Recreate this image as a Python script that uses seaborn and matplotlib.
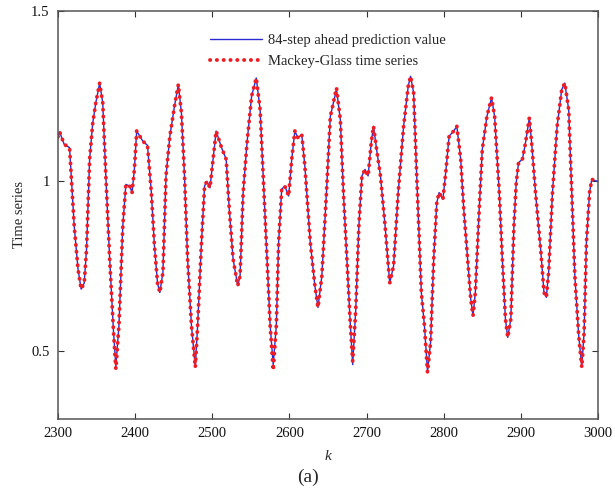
import matplotlib
matplotlib.use("Agg")
import matplotlib.pyplot as plt
import seaborn as sns
import pandas as pd

# Sample positions (k) and values
k_vals = [2300, 2302, 2308, 2315, 2321, 2326, 2330, 2334, 2337, 2341, 2345, 2349, 2354, 2358,
          2362, 2367, 2372, 2375, 2379, 2384, 2388, 2393, 2396, 2399, 2402, 2410, 2416,
          2421, 2425, 2429, 2432, 2436, 2440, 2445, 2451, 2456, 2460, 2464, 2468, 2473,
          2478, 2481, 2486, 2490, 2493, 2497, 2501, 2505, 2512, 2518, 2522, 2527, 2533,
          2536, 2540, 2545, 2551, 2557, 2562, 2566, 2571, 2575, 2579, 2583, 2586, 2590,
          2594, 2599, 2603, 2607, 2611, 2616, 2620, 2627, 2633, 2637, 2642, 2648, 2653,
          2656, 2661, 2666, 2670, 2675, 2679, 2682, 2686, 2690, 2694, 2698, 2702, 2706,
          2709, 2713, 2718, 2724, 2730, 2735, 2741, 2748, 2754, 2757, 2761, 2765, 2771,
          2775, 2779, 2783, 2787, 2791, 2794, 2799, 2803, 2807, 2813, 2817, 2822, 2826,
          2831, 2835, 2838, 2841, 2846, 2850, 2856, 2862, 2866, 2872, 2876, 2880, 2883,
          2887, 2891, 2894, 2897, 2902, 2906, 2911, 2914, 2919, 2926, 2930, 2933, 2936,
          2941, 2947, 2953, 2957, 2962, 2966, 2970, 2975, 2979, 2982, 2985, 2989, 2992,
          2997, 3000]

mg_vals = [1.13, 1.145, 1.108, 1.098, 0.868, 0.74, 0.682, 0.70, 0.80, 1.064, 1.17, 1.23, 1.288, 1.23,
           1.015, 0.77, 0.555, 0.447, 0.575, 0.868, 0.99, 0.985, 0.966, 1.034, 1.147, 1.117, 1.105,
           0.966, 0.81, 0.70, 0.672, 0.731, 1.015, 1.132, 1.22, 1.284, 1.20, 1.015, 0.77, 0.575,
           0.452, 0.575, 0.82, 0.985, 0.999, 0.98, 1.064, 1.147, 1.098, 1.064, 0.917, 0.77, 0.692,
           0.72, 0.966, 1.112, 1.25, 1.303, 1.21, 1.015, 0.77, 0.575, 0.443, 0.575, 0.82, 0.976,
           0.985, 0.956, 1.064, 1.147, 1.127, 1.137, 1.044, 0.82, 0.692, 0.628, 0.72, 0.966, 1.19,
           1.22, 1.274, 1.18, 0.966, 0.75, 0.575, 0.47, 0.623, 0.868, 1.015, 1.034, 1.015, 1.112,
           1.161, 1.093, 1.015, 0.868, 0.70, 0.75, 0.966, 1.161, 1.279, 1.308, 1.26, 1.015, 0.672,
           0.575, 0.437, 0.526, 0.77, 0.936, 0.966, 0.946, 1.034, 1.132, 1.147, 1.161, 1.064, 0.917,
           0.77, 0.653, 0.604, 0.672, 0.917, 1.093, 1.19, 1.245, 1.19, 0.966, 0.77, 0.594, 0.54,
           0.594, 0.868, 0.995, 1.054, 1.064, 1.112, 1.186, 1.112, 0.966, 0.79, 0.672, 0.658, 0.731,
           0.966, 1.161, 1.269, 1.288, 1.21, 0.966, 0.72, 0.545, 0.452, 0.555, 0.82, 0.966, 1.005,
           1.0, 1.0]

pred_vals = [1.13, 1.145, 1.108, 1.098, 0.868, 0.74, 0.682, 0.70, 0.80, 1.064, 1.17, 1.23, 1.288, 1.23,
             1.015, 0.77, 0.555, 0.455, 0.575, 0.868, 0.99, 0.985, 0.966, 1.034, 1.147, 1.117, 1.105,
             0.966, 0.81, 0.70, 0.672, 0.731, 1.015, 1.132, 1.22, 1.284, 1.20, 1.015, 0.77, 0.575,
             0.452, 0.575, 0.82, 0.985, 0.999, 0.98, 1.064, 1.147, 1.098, 1.064, 0.917, 0.77, 0.692,
             0.72, 0.966, 1.112, 1.25, 1.303, 1.21, 1.015, 0.77, 0.575, 0.46, 0.575, 0.82, 0.976,
             0.985, 0.956, 1.064, 1.147, 1.127, 1.137, 1.044, 0.82, 0.692, 0.628, 0.72, 0.966, 1.19,
             1.22, 1.27, 1.18, 0.966, 0.75, 0.575, 0.46, 0.623, 0.868, 1.015, 1.034, 1.015, 1.112,
             1.161, 1.093, 1.015, 0.868, 0.70, 0.75, 0.966, 1.161, 1.279, 1.308, 1.26, 1.015, 0.672,
             0.575, 0.44, 0.526, 0.77, 0.936, 0.966, 0.946, 1.034, 1.132, 1.147, 1.161, 1.064, 0.917,
             0.77, 0.653, 0.604, 0.672, 0.917, 1.093, 1.19, 1.245, 1.19, 0.966, 0.77, 0.594, 0.54,
             0.594, 0.868, 0.995, 1.054, 1.064, 1.112, 1.186, 1.112, 0.966, 0.79, 0.672, 0.658, 0.731,
             0.966, 1.161, 1.269, 1.288, 1.21, 0.966, 0.72, 0.545, 0.455, 0.555, 0.82, 0.966, 1.005,
             1.0, 1.0]

x_ticks = [2300, 2400, 2500, 2600, 2700, 2800, 2900, 3000]
y_ticks = [0.5, 1.0, 1.5]
y_tick_labels = ["0.5", "1", "1.5"]

sns.set_style("ticks")
plt.rcParams['font.family'] = ['Liberation Serif', 'DejaVu Serif']
plt.rcParams['mathtext.fontset'] = 'custom'
plt.rcParams['mathtext.it'] = 'Liberation Serif:italic'

df = pd.DataFrame({"k": k_vals, "pred": pred_vals, "mg": mg_vals})

fig = plt.figure(figsize=(6.15, 4.92), dpi=100)
ax = fig.add_axes([58/615, 1 - 419/492, 540/615, 408/492])

sns.lineplot(data=df, x="k", y="pred", ax=ax, color="#2b2bd0", linewidth=1.0,
             label="84-step ahead prediction value")
sns.lineplot(data=df, x="k", y="mg", ax=ax, color="#ee1c24", linewidth=2.8,
             linestyle=(0, (0.05, 1.7)), dash_capstyle="round",
             label="Mackey-Glass time series")

ax.set_xlim(2300, 3000)
ax.set_ylim(0.3, 1.5)
ax.set_xticks(x_ticks)
ax.set_xticklabels([str(t) for t in x_ticks])
ax.set_yticks(y_ticks)
ax.set_yticklabels(y_tick_labels)
ax.tick_params(direction="in", top=True, right=True, labelsize=10.5, length=4,
               color="#333333", labelcolor="#111111", pad=6)
for s in ax.spines.values():
    s.set_color("#555555")
    s.set_linewidth(1.1)

ax.set_xlabel("$k$", fontsize=11, labelpad=6)
ax.set_ylabel("Time series", fontsize=10.5, labelpad=4)

leg = ax.legend(loc="upper center", bbox_to_anchor=(0.5, 0.98), frameon=False,
                fontsize=10.5, handlelength=3.6, handletextpad=0.4, labelspacing=0.55,
                borderaxespad=0.6)
for line in leg.get_lines():
    line.set_dash_capstyle("round")

fig.text(0.5, 0.03, "(a)", ha="center", va="center", fontsize=14)

fig.savefig("out.png", dpi=100)
